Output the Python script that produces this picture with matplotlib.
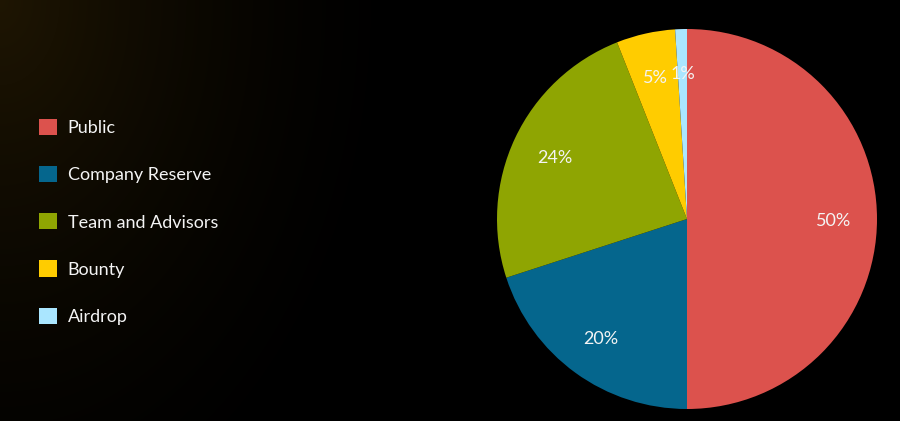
import numpy as np
import matplotlib
matplotlib.use("Agg")
import matplotlib.pyplot as plt

# token allocation
labels = ["Public", "Company Reserve", "Team and Advisors", "Bounty", "Airdrop"]
shares = [50, 20, 24, 5, 1]
colors = ["#DC524D", "#05668D", "#8FA502", "#FFCC00", "#AAE6FF"]

plt.rcParams['font.family'] = ['Lato', 'DejaVu Sans']

fig = plt.figure(figsize=(9, 4.21), dpi=100)
fig.patch.set_facecolor("black")

# dark brownish glow in top-left corner
bg = fig.add_axes([0, 0, 1, 1])
bg.axis("off")
yy, xx = np.mgrid[0:421, 0:900]
d = np.sqrt((xx / 420.0) ** 2 + (yy / 600.0) ** 2)
glow = np.clip(1 - d, 0, 1) ** 1.6
img = np.zeros((421, 900, 3))
img[..., 0] = 0.12 * glow
img[..., 1] = 0.085 * glow
img[..., 2] = 0.01 * glow
bg.imshow(img, aspect="auto", extent=[0, 1, 0, 1])

# pie
ax = fig.add_axes([(687 - 190) / 900, (421 - 219 - 190) / 421, 380 / 900, 380 / 421])
ax.set_facecolor("none")
wedges, texts, autotexts = ax.pie(
    shares, colors=colors, startangle=90, counterclock=False, radius=1,
    autopct='%d%%', pctdistance=0.77,
    wedgeprops=dict(linewidth=0),
    textprops=dict(color="#F4F4F4", fontsize=13))
for t in autotexts:
    t.set_va("center_baseline")
ax.set_xlim(-1, 1)
ax.set_ylim(-1, 1)
ax.set_aspect("equal")

# legend
leg = fig.legend(wedges, labels, loc="upper left", bbox_to_anchor=(39 / 900, 1 - 119 / 421),
                 frameon=False, prop=dict(size=13), labelcolor="#F4F4F4",
                 handlelength=0.97, handleheight=1.0, handletextpad=0.62,
                 labelspacing=1.655, borderaxespad=0, borderpad=0)

fig.savefig("out.png", dpi=100, facecolor=fig.get_facecolor())
